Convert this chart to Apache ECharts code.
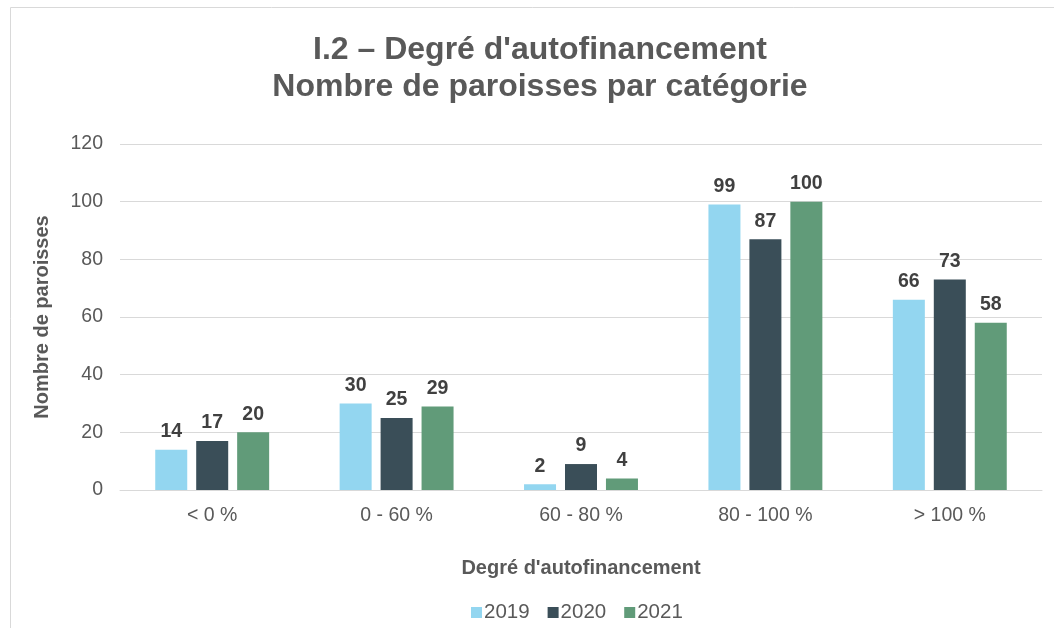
<!DOCTYPE html>
<html><head><meta charset="utf-8">
<script src="https://cdn.jsdelivr.net/npm/echarts@6/dist/echarts.min.js"></script>
<style>html,body{margin:0;padding:0;background:#fff}#c{width:1054px;height:628px}</style>
</head><body><div id="c"></div>
<script>
const categories = ['< 0 %', '0 - 60 %', '60 - 80 %', '80 - 100 %', '> 100 %'];
const years = ['2019', '2020', '2021'];
const v2019 = [14, 30, 2, 99, 66];
const v2020 = [17, 25, 9, 87, 73];
const v2021 = [20, 29, 4, 100, 58];
const colors = ['#93D6F0', '#3A4E58', '#619B79'];
const font = 'Liberation Sans, Arial, sans-serif';
const chart = echarts.init(document.getElementById('c'));
const mk = (name, data, color) => ({
  name, type: 'bar', data, barWidth: 32, barGap: '28%',
  itemStyle: { color },
  label: { show: true, position: 'top', distance: 8, fontFamily: font, fontSize: 19.5, fontWeight: 'bold', color: '#404040' }
});
chart.setOption({
  animation: false,
  textStyle: { fontFamily: font },
  graphic: [{ type: 'rect', shape: { x: 10.5, y: 7.5, width: 1100, height: 700 }, style: { fill: 'none', stroke: '#d9d9d9', lineWidth: 1 }, silent: true }],
  title: {
    text: "I.2 – Degré d'autofinancement\nNombre de paroisses par catégorie",
    left: 535, top: 27, textAlign: 'center',
    textStyle: { fontFamily: font, fontSize: 32, fontWeight: 'bold', color: '#595959', lineHeight: 37 }
  },
  grid: { left: 120, right: 12, top: 144, bottom: 138 },
  legend: {
    data: years, top: 597, left: 466, itemWidth: 11, itemHeight: 11, itemGap: 18,
    icon: 'rect', textStyle: { fontFamily: font, fontSize: 20.5, color: '#595959', padding: [0,0,0,-3] }
  },
  xAxis: {
    type: 'category', data: categories,
    name: "Degré d'autofinancement", nameLocation: 'middle', nameGap: 68,
    nameTextStyle: { fontFamily: font, fontSize: 20, fontWeight: 'bold', color: '#595959' },
    axisLine: { lineStyle: { color: '#d9d9d9', width: 1 } },
    axisTick: { show: false },
    axisLabel: { fontFamily: font, fontSize: 19.5, color: '#595959', margin: 16 }
  },
  yAxis: {
    type: 'value', min: 0, max: 120, interval: 20,
    name: 'Nombre de paroisses', nameLocation: 'middle', nameGap: 68, nameRotate: 90,
    nameTextStyle: { fontFamily: font, fontSize: 20, fontWeight: 'bold', color: '#595959' },
    axisLine: { show: false }, axisTick: { show: false },
    splitLine: { lineStyle: { color: '#d9d9d9', width: 1 } },
    axisLabel: { fontFamily: font, fontSize: 19.5, color: '#595959', margin: 17 }
  },
  series: [mk(years[0], v2019, colors[0]), mk(years[1], v2020, colors[1]), mk(years[2], v2021, colors[2])]
});
</script></body></html>
